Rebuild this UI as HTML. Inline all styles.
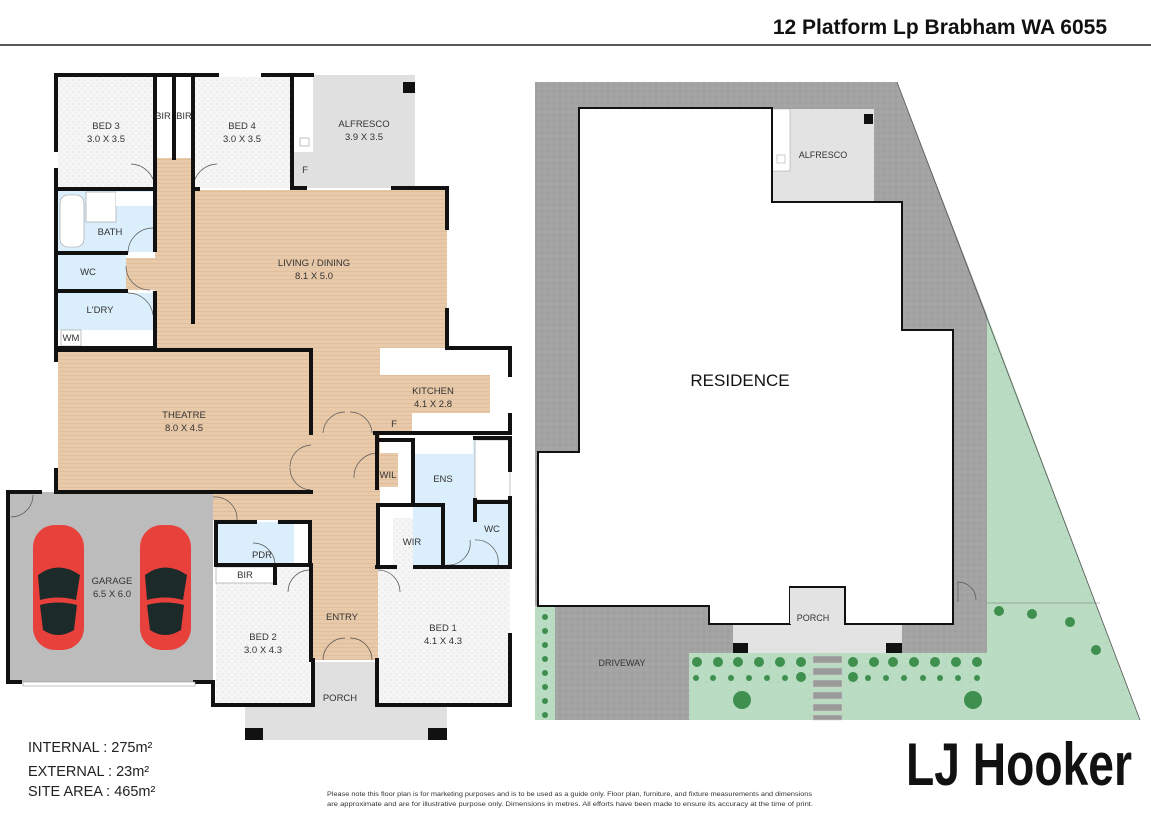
<!DOCTYPE html>
<html><head><meta charset="utf-8"><style>
html,body{margin:0;padding:0;background:#fff;}
svg{display:block;font-family:"Liberation Sans",sans-serif;}
</style></head><body>
<svg width="1151" height="814" viewBox="0 0 1151 814" xmlns="http://www.w3.org/2000/svg">
<defs>
<pattern id="wood" width="6" height="4" patternUnits="userSpaceOnUse"><rect width="6" height="4" fill="#e8c9a9"/><line x1="0" y1="3.5" x2="6" y2="3.5" stroke="#dcb894" stroke-width="0.6"/></pattern>
<pattern id="spk" width="6" height="6" patternUnits="userSpaceOnUse"><rect width="6" height="6" fill="#f5f5f5"/><circle cx="1" cy="2" r="0.5" fill="#c8c8c8"/><circle cx="4" cy="5" r="0.5" fill="#d0d0d0"/></pattern>
<pattern id="gry" width="6" height="6" patternUnits="userSpaceOnUse"><rect width="6" height="6" fill="#a3a3a3"/><circle cx="2" cy="1" r="0.5" fill="#8a8a8a"/><circle cx="5" cy="4" r="0.5" fill="#bdbdbd"/></pattern>
<pattern id="grn" width="8" height="8" patternUnits="userSpaceOnUse"><rect width="8" height="8" fill="#b9dcc2"/><line x1="1" y1="3" x2="3" y2="2" stroke="#a6ceb0" stroke-width="0.6"/></pattern>
</defs>

<text x="1107" y="34" text-anchor="end" font-size="21" font-weight="bold" fill="#111">12 Platform Lp Brabham WA 6055</text>
<line x1="0" y1="45" x2="1151" y2="45" stroke="#222" stroke-width="1.5"/>

<rect x="58" y="77" width="97" height="111" fill="url(#spk)"/>
<rect x="193" y="77" width="97" height="111" fill="url(#spk)"/>
<rect x="155" y="77" width="38" height="80" fill="#fff"/>
<rect x="293" y="75" width="122" height="113" fill="#e0e0e0"/>
<rect x="293" y="77" width="20" height="75" fill="#fff"/>
<rect x="403" y="82" width="12" height="11" fill="#111"/>
<rect x="300" y="138" width="9" height="8" fill="#fff" stroke="#999" stroke-width="0.6"/>
<rect x="155" y="158" width="38" height="192" fill="url(#wood)"/>
<rect x="126" y="258" width="40" height="32" fill="url(#wood)"/>
<rect x="193" y="190" width="254" height="160" fill="url(#wood)"/>
<rect x="311" y="348" width="69" height="312" fill="url(#wood)"/>
<rect x="380" y="375" width="110" height="38" fill="url(#wood)"/>
<rect x="380" y="348" width="130" height="27" fill="#fff"/>
<rect x="380" y="413" width="32" height="20" fill="url(#wood)"/>
<rect x="412" y="413" width="98" height="20" fill="#fff"/>
<rect x="490" y="375" width="20" height="38" fill="#fff"/>
<rect x="58" y="191" width="95" height="61" fill="#dbeefb"/>
<rect x="60" y="195" width="24" height="52" rx="8" fill="#fff" stroke="#999" stroke-width="0.6"/>
<rect x="86" y="192" width="30" height="30" fill="#fff" stroke="#999" stroke-width="0.6"/>
<rect x="116" y="192" width="37" height="14" fill="#fff"/>
<rect x="58" y="255" width="68" height="35" fill="#dbeefb"/>
<rect x="58" y="293" width="95" height="55" fill="#dbeefb"/>
<rect x="58" y="330" width="95" height="18" fill="#fff"/>
<rect x="61" y="330" width="20" height="16" fill="#fff" stroke="#999" stroke-width="0.6"/>
<rect x="58" y="350" width="253" height="142" fill="url(#wood)"/>
<rect x="213" y="492" width="98" height="28" fill="url(#wood)"/>
<rect x="8" y="492" width="205" height="190" fill="#bcbcbc"/>
<rect x="216" y="522" width="94" height="43" fill="#dbeefb"/>
<rect x="294" y="522" width="16" height="43" fill="#fff"/>
<rect x="216" y="567" width="94" height="138" fill="url(#spk)"/>
<rect x="216" y="567" width="59" height="16" fill="#fff" stroke="#999" stroke-width="0.6"/>
<rect x="378" y="567" width="132" height="138" fill="url(#spk)"/>
<rect x="378" y="505" width="65" height="62" fill="#fff"/>
<rect x="393" y="518" width="38" height="49" fill="url(#spk)"/>
<rect x="378" y="453" width="20" height="34" fill="url(#wood)"/>
<rect x="413" y="438" width="62" height="127" fill="#dbeefb"/>
<rect x="413" y="438" width="60" height="16" fill="#fff"/>
<rect x="475" y="440" width="35" height="60" fill="#fff" stroke="#999" stroke-width="0.6"/>
<rect x="475" y="502" width="35" height="63" fill="#dbeefb"/>
<rect x="313" y="662" width="64" height="43" fill="#e0e0e0"/>
<rect x="245" y="705" width="202" height="35" fill="#e0e0e0"/>
<rect x="245" y="728" width="18" height="12" fill="#111"/>
<rect x="428" y="728" width="19" height="12" fill="#111"/>

<g fill="none" stroke="#555" stroke-width="0.7">
<path d="M155 188 A25 25 0 0 0 131 164"/><path d="M193 188 A25 25 0 0 1 217 164"/>
<path d="M153 228 A25 25 0 0 0 128 253"/><path d="M126 266 A24 24 0 0 0 150 290"/>
<path d="M153 315 A25 25 0 0 0 128 293"/>
<path d="M323 433 A22 22 0 0 1 345 412"/><path d="M372 433 A22 22 0 0 0 350 412"/>
<path d="M311 445 A22 22 0 0 0 290 467"/><path d="M311 490 A22 22 0 0 1 290 468"/>
<path d="M378 453 A24 24 0 0 0 354 478"/><path d="M213 497 A22 22 0 0 1 237 520"/>
<path d="M275 565 A22 22 0 0 0 253 543"/><path d="M310 570 A22 22 0 0 0 288 592"/>
<path d="M378 570 A22 22 0 0 1 400 592"/><path d="M33 495 A22 22 0 0 1 11 517"/>
<path d="M323 660 A22 22 0 0 1 345 638"/><path d="M372 660 A22 22 0 0 0 350 638"/>
<path d="M447 565 A22 22 0 0 0 470 540"/><path d="M475 540 A22 22 0 0 1 498 565"/>
</g>

<g stroke="#111" stroke-width="4" fill="none" stroke-linecap="square">
<path d="M56 75 H217 M263 75 H312"/>
<path d="M56 75 V150 M56 170 V348"/>
<path d="M56 350 V360 M56 470 V492"/>
<path d="M155 76 V188 M174 76 V158 M193 76 V158"/>
<path d="M58 189 H155 M193 189 H198"/>
<path d="M292 75 V188 H305"/>
<path d="M393 188 H447 V228 M447 310 V348 H510 V375 M510 415 V433 H375"/>
<path d="M193 158 V322"/>
<path d="M155 191 V250 M155 293 V348 H58 M58 253 H126 M58 291 H126"/>
<path d="M58 350 H311 V433"/>
<path d="M58 492 H311"/>
<path d="M8 492 V682 H20 M195 682 H213 V705 H310 M260 705 H310 M378 705 H510 V635"/>
<path d="M8 492 H40"/>
<path d="M216 522 V565 H310 M216 522 H255 M280 522 H310 V565"/>
<path d="M311 565 V660 M313 660 V705"/>
<path d="M377 433 V488 M377 440 H413 V503 M378 505 H443 V567 M378 505 V567"/>
<path d="M475 438 H510 V470 M510 498 V567 H475 M475 502 H510 M475 500 V520"/>
<path d="M377 567 H395 M415 567 H510"/>
<path d="M377 660 V705"/>
<path d="M275 567 V583"/>
</g>

<g>
<rect x="33" y="525" width="51" height="125" rx="22" fill="#e8403b"/>
<path d="M38 575 Q58 560 80 575 L76 600 Q58 595 40 600 Z" fill="#1c2a2a"/>
<path d="M40 605 Q58 600 77 605 L74 630 Q58 640 43 630 Z" fill="#1c2a2a"/>
<rect x="140" y="525" width="51" height="125" rx="22" fill="#e8403b"/>
<path d="M145 575 Q165 560 187 575 L183 600 Q165 595 147 600 Z" fill="#1c2a2a"/>
<path d="M147 605 Q165 600 184 605 L181 630 Q165 640 150 630 Z" fill="#1c2a2a"/>
</g>
<rect x="23" y="682" width="172" height="4" fill="#fff" stroke="#999" stroke-width="0.6"/>

<g font-size="9.5" fill="#333" text-anchor="middle">
<text x="106" y="129">BED 3</text><text x="106" y="142">3.0 X 3.5</text>
<text x="242" y="129">BED 4</text><text x="242" y="142">3.0 X 3.5</text>
<text x="163" y="119">BIR</text><text x="184" y="119">BIR</text>
<text x="364" y="127">ALFRESCO</text><text x="364" y="140">3.9 X 3.5</text>
<text x="305" y="173">F</text>
<text x="110" y="235">BATH</text>
<text x="88" y="275">WC</text>
<text x="100" y="313">L'DRY</text>
<text x="71" y="341">WM</text>
<text x="314" y="266">LIVING / DINING</text><text x="314" y="279">8.1 X 5.0</text>
<text x="433" y="394">KITCHEN</text><text x="433" y="407">4.1 X 2.8</text>
<text x="394" y="427">F</text>
<text x="184" y="418">THEATRE</text><text x="184" y="431">8.0 X 4.5</text>
<text x="388" y="478">WIL</text>
<text x="443" y="482">ENS</text>
<text x="492" y="532">WC</text>
<text x="412" y="545">WIR</text>
<text x="262" y="558">PDR</text>
<text x="245" y="578">BIR</text>
<text x="112" y="584">GARAGE</text><text x="112" y="597">6.5 X 6.0</text>
<text x="342" y="620">ENTRY</text>
<text x="263" y="640">BED 2</text><text x="263" y="653">3.0 X 4.3</text>
<text x="443" y="631">BED 1</text><text x="443" y="644">4.1 X 4.3</text>
<text x="340" y="701">PORCH</text>
</g>

<polygon points="535,82 897,82 987,315 987,653 689,653 689,720 535,720" fill="url(#gry)"/>
<polygon points="987,315 1140,720 987,720" fill="url(#grn)"/>
<line x1="897" y1="82" x2="1140" y2="720" stroke="#555" stroke-width="0.8"/>
<line x1="987" y1="603" x2="1100" y2="603" stroke="#777" stroke-width="0.6"/>
<rect x="535" y="606" width="20" height="114" fill="url(#grn)"/>
<rect x="689" y="653" width="298" height="67" fill="url(#grn)"/>
<rect x="733" y="624" width="169" height="29" fill="#e3e3e3"/>
<rect x="733" y="643" width="15" height="10" fill="#111"/>
<rect x="886" y="643" width="16" height="10" fill="#111"/>
<polygon points="579,108 772,108 772,202 902,202 902,330 953,330 953,624 845,624 845,587 790,587 790,624 709,624 709,606 538,606 538,452 579,452" fill="#fff" stroke="#111" stroke-width="2"/>
<rect x="772" y="109" width="102" height="92" fill="#e3e3e3"/>
<rect x="772" y="109" width="18" height="62" fill="#fff" stroke="#999" stroke-width="0.5"/>
<rect x="777" y="155" width="8" height="8" fill="#fff" stroke="#999" stroke-width="0.5"/>
<rect x="864" y="114" width="9" height="10" fill="#111"/>
<line x1="772" y1="108" x2="772" y2="202" stroke="#111" stroke-width="2"/>
<rect x="790" y="588" width="54" height="36" fill="#e3e3e3"/>
<g fill="#3f8f4f">
<circle cx="545" cy="617" r="3"/><circle cx="545" cy="631" r="3"/><circle cx="545" cy="645" r="3"/><circle cx="545" cy="659" r="3"/><circle cx="545" cy="673" r="3"/><circle cx="545" cy="687" r="3"/><circle cx="545" cy="701" r="3"/><circle cx="545" cy="715" r="3"/>
<circle cx="697" cy="662" r="5"/><circle cx="718" cy="662" r="5"/><circle cx="738" cy="662" r="5"/><circle cx="759" cy="662" r="5"/><circle cx="780" cy="662" r="5"/><circle cx="801" cy="662" r="5"/><circle cx="801" cy="677" r="5"/>
<circle cx="853" cy="662" r="5"/><circle cx="874" cy="662" r="5"/><circle cx="893" cy="662" r="5"/><circle cx="914" cy="662" r="5"/><circle cx="935" cy="662" r="5"/><circle cx="956" cy="662" r="5"/><circle cx="977" cy="662" r="5"/><circle cx="853" cy="677" r="5"/>
<circle cx="696" cy="678" r="3"/><circle cx="713" cy="678" r="3"/><circle cx="731" cy="678" r="3"/><circle cx="749" cy="678" r="3"/><circle cx="767" cy="678" r="3"/><circle cx="785" cy="678" r="3"/>
<circle cx="868" cy="678" r="3"/><circle cx="886" cy="678" r="3"/><circle cx="904" cy="678" r="3"/><circle cx="923" cy="678" r="3"/><circle cx="940" cy="678" r="3"/><circle cx="958" cy="678" r="3"/><circle cx="977" cy="678" r="3"/>
<circle cx="742" cy="700" r="9"/><circle cx="973" cy="700" r="9"/>
<circle cx="999" cy="611" r="5"/><circle cx="1032" cy="614" r="5"/><circle cx="1070" cy="622" r="5"/><circle cx="1096" cy="650" r="5"/>
</g>
<g fill="#9a9a9a" stroke="#ccc" stroke-width="0.5">
<rect x="813" y="656" width="29" height="7"/><rect x="813" y="668" width="29" height="7"/><rect x="813" y="680" width="29" height="7"/><rect x="813" y="692" width="29" height="7"/><rect x="813" y="704" width="29" height="7"/><rect x="813" y="715" width="29" height="5"/>
</g>
<path d="M958 602 V582 A18 18 0 0 1 976 600" fill="none" stroke="#555" stroke-width="0.7"/>
<text x="740" y="386" font-size="17" text-anchor="middle" fill="#111">RESIDENCE</text>
<text x="823" y="158" font-size="9" text-anchor="middle" fill="#333">ALFRESCO</text>
<text x="813" y="621" font-size="9" text-anchor="middle" fill="#333">PORCH</text>
<text x="622" y="666" font-size="9" text-anchor="middle" fill="#333">DRIVEWAY</text>

<g font-size="14.5" fill="#222">
<text x="28" y="752">INTERNAL  : 275m²</text>
<text x="28" y="776">EXTERNAL  : 23m²</text>
<text x="28" y="796">SITE AREA  : 465m²</text>
</g>
<g font-size="6.3" fill="#333">
<text x="327" y="796" textLength="485" lengthAdjust="spacingAndGlyphs">Please note this floor plan is for marketing purposes and is to be used as a guide only. Floor plan, furniture, and fixture measurements and dimensions</text>
<text x="327" y="806" textLength="486" lengthAdjust="spacingAndGlyphs">are approximate and are for illustrative purpose only. Dimensions in metres. All efforts have been made to ensure its accuracy at the time of print.</text>
</g>
<text x="906" y="785" font-size="60" font-weight="bold" fill="#111" textLength="226" lengthAdjust="spacingAndGlyphs">LJ Hooker</text>
</svg>
</body></html>
